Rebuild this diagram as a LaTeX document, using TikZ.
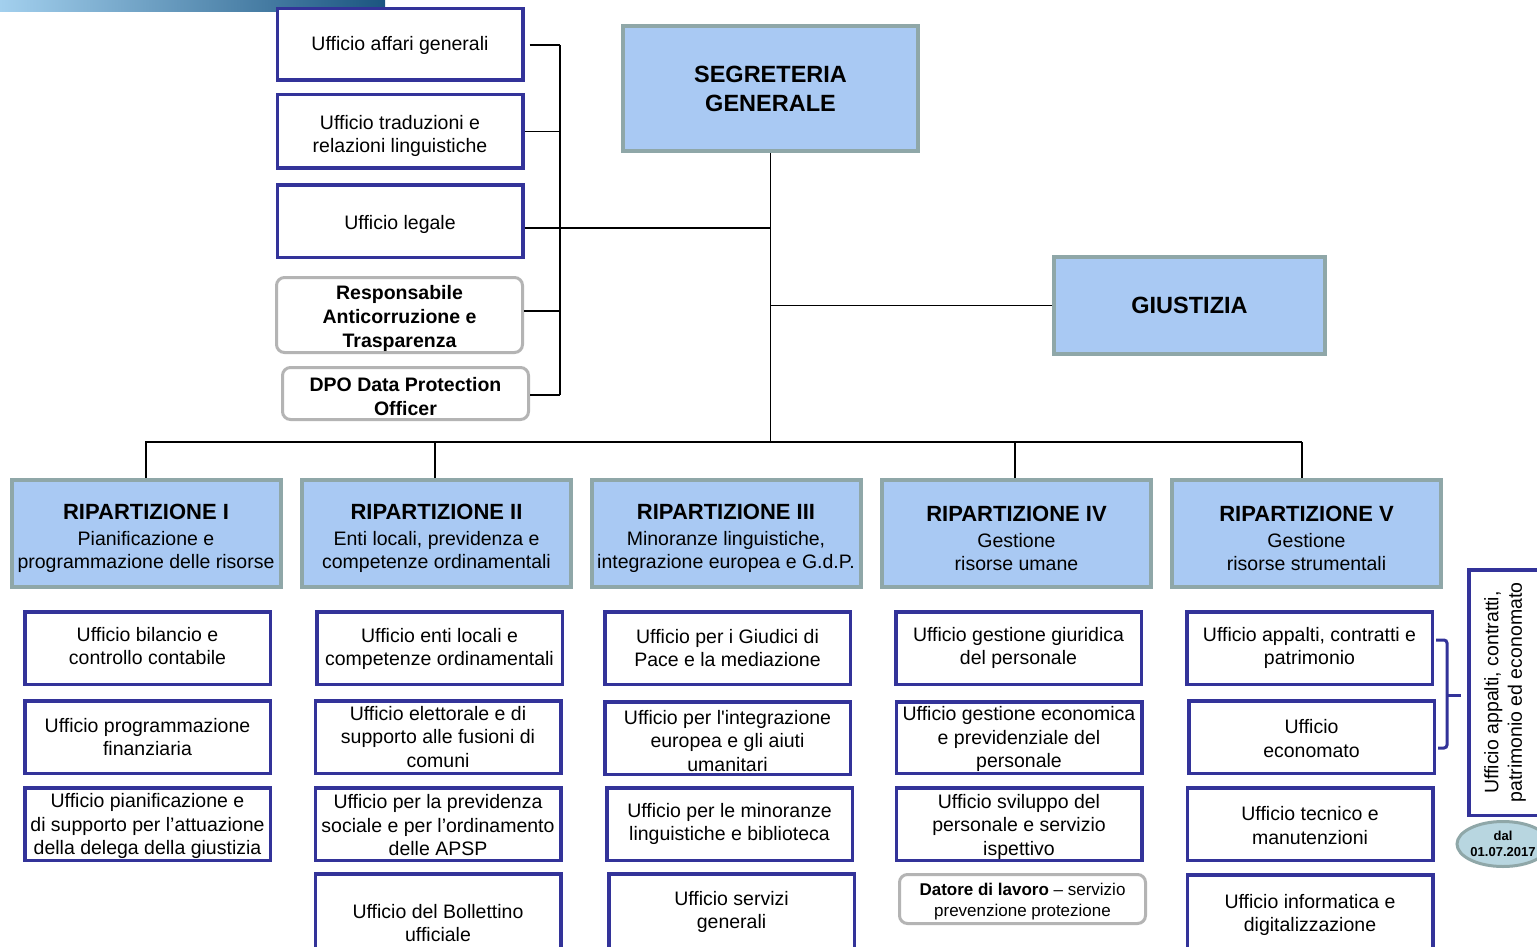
\documentclass[tikz,border=0pt]{standalone}
\usepackage{fontspec}
\setmainfont{Liberation Sans}
\usetikzlibrary{shapes.geometric}
\definecolor{rfill}{HTML}{A9C9F3}
\definecolor{rborder}{HTML}{8FA7A8}
\definecolor{ublue}{HTML}{333399}
\definecolor{ggrey}{HTML}{B4B4B4}
\definecolor{efill}{HTML}{B8D6E0}
\definecolor{barL}{HTML}{A3D0EE}
\definecolor{barM}{HTML}{3F88BE}
\definecolor{barR}{HTML}{1B5580}
\newcommand\myuf{\fontsize{19.5}{23.5}\selectfont}
\newcommand\myub{\fontsize{19.5}{24}\selectfont\bfseries}
\newcommand\myrt{\fontsize{22}{25}\selectfont\bfseries}
\newcommand\mybig{\fontsize{23.5}{29}\selectfont\bfseries}
\newcommand\mysm{\fontsize{17}{21}\selectfont}
\newcommand\myeb{\fontsize{13}{16}\selectfont\bfseries}
\begin{document}
\begin{tikzpicture}[x=1pt,y=-1pt,
  ubox/.style={draw=ublue, line width=3.5pt, fill=white, align=center, inner sep=0pt,
    font=\myuf, minimum width=245.5pt, minimum height=72.5pt},
  rip/.style={draw=rborder, fill=rfill, line width=4pt, align=center, inner sep=0pt,
    font=\myuf, minimum width=269pt, minimum height=107pt},
  gbox/.style={draw=ggrey, line width=3pt, rounded corners=8pt, fill=white, align=center,
    inner sep=0pt, font=\myub, minimum width=246pt},
  tx/.style={align=center, inner sep=0pt, font=\myuf},
  conn/.style={draw=black, line width=1.4pt},
  brk/.style={draw=ublue, line width=3pt, rounded corners=3pt}]
\useasboundingbox (0,0) rectangle (1537,947);
\clip (0,0) rectangle (1537,947);
\fill[white] (0,0) rectangle (1537,947);

% top-left gradient bar
\shade[left color=barL, middle color=barM, right color=barR] (0,0) rectangle (385,12);

% left staff offices
\node[ubox, minimum height=71.5pt] (a1) at (400,44.5) {};
\node[tx] (a1t) at ([yshift=-1pt]a1.center) {Ufficio affari generali};
\node[ubox, minimum height=73.5pt] (a2) at (400,131.5) {};
\node[tx] (a2t) at ([yshift=-4.5pt]a2.center) {Ufficio traduzioni e\\relazioni linguistiche};
\node[ubox] (a3) at (400,221) {};
\node[tx] (a3t) at ([yshift=-3pt]a3.center) {Ufficio legale};
\node[gbox, minimum height=75pt] (a4) at (399.5,315) {};
\node[tx, font=\myub] (a4t) at ([yshift=-3pt]a4.center) {Responsabile\\Anticorruzione e\\Trasparenza};
\node[gbox, minimum height=52pt] (a5) at (405.5,393.5) {};
\node[tx, font=\myub] (a5t) at ([yshift=-3pt]a5.center) {DPO Data Protection\\Officer};

% top units
\node[rip, font=\mybig, minimum width=295pt, minimum height=125pt] (seg) at (770.5,88.5) {SEGRETERIA\\GENERALE};
\node[rip, font=\mybig, minimum width=271pt, minimum height=97pt] (giu) at (1189.5,305.5) {GIUSTIZIA};

% ripartizioni
\node[rip] (r1) at (146,533.5) {};
\node[rip] (r2) at (436.5,533.5) {};
\node[rip] (r3) at (726,533.5) {};
\node[rip] (r4) at (1016.5,533.5) {};
\node[rip] (r5) at (1306.5,533.5) {};
\node[tx] (r1t) at ([yshift=-5pt]r1.center) {{\myrt RIPARTIZIONE I}\\[2pt]Pianificazione e\\programmazione delle risorse};
\node[tx] (r2t) at ([yshift=-5pt]r2.center) {{\myrt RIPARTIZIONE II}\\[2pt]Enti locali, previdenza e\\competenze ordinamentali};
\node[tx] (r3t) at ([yshift=-5pt]r3.center) {{\myrt RIPARTIZIONE III}\\[2pt]Minoranze linguistiche,\\integrazione europea e G.d.P.};
\node[tx] (r4t) at ([yshift=-5pt]r4.center) {{\myrt RIPARTIZIONE IV}\\[2pt]Gestione\\risorse umane};
\node[tx] (r5t) at ([yshift=-5pt]r5.center) {{\myrt RIPARTIZIONE V}\\[2pt]Gestione\\risorse strumentali};

% connectors
\coordinate (sp1) at (560,45);
\coordinate (sp5) at (560,395);
\coordinate (j3) at (560,228);
\coordinate (j4) at (560,311);
\coordinate (busL) at (145,442);
\coordinate (busR) at (1302,442);
\draw[conn] ([xshift=5pt]a1.east |- sp1) -- (sp1);
\draw[conn] (a2.east) -- (a2.east -| sp1);
\draw[conn] (a3.east |- j3) -- (seg.south |- j3);
\draw[conn] (a4.east |- j4) -- (j4);
\draw[conn] (a5.east |- sp5) -- (sp5);
\draw[conn] (sp1) -- (sp5);
\draw[conn] (seg.south) -- (seg.south |- busL);
\draw[conn] (giu.west) -- (giu.west -| seg.south);
\draw[conn] (busL) -- (busR);
\draw[conn] (r1.north) -- (r1.north |- busL);
\draw[conn] ([xshift=-1.5pt]r2.north) -- ([xshift=-1.5pt]r2.north |- busL);
\draw[conn] ([xshift=-1.5pt]r4.north) -- ([xshift=-1.5pt]r4.north |- busL);
\draw[conn] (busR) -- (busR |- r5.north);

% column I
\node[ubox] (i1) at (147.5,648) {};
\node[tx] (i1t) at ([yshift=2pt]i1.center) {Ufficio bilancio e\\controllo contabile};
\node[ubox] (i2) at (147.5,737) {Ufficio programmazione\\finanziaria};
\node[ubox] (i3) at (147.5,824) {};
\node[tx] (i3t) at ([yshift=-2pt]i3.center) {Ufficio pianificazione e\\di supporto per l’attuazione\\della delega della giustizia};
% column II
\node[ubox] (ii1) at (439.5,648) {};
\node[tx] (ii1t) at ([yshift=-1pt]ii1.center) {Ufficio enti locali e\\competenze ordinamentali};
\node[ubox] (ii2) at (438,737) {Ufficio elettorale e di\\supporto alle fusioni di\\comuni};
\node[ubox] (ii3) at (438,824) {};
\node[tx] (ii3t) at ([yshift=-1.5pt]ii3.center) {Ufficio per la previdenza\\sociale e per l’ordinamento\\delle APSP};
\node[ubox, minimum height=98.5pt] (ii4) at (438,923) {Ufficio del Bollettino\\ufficiale};
% column III
\node[ubox] (iii1) at (727.5,648) {Ufficio per i Giudici di\\Pace e la mediazione};
\node[ubox] (iii2) at (727.5,738) {};
\node[tx] (iii2t) at ([yshift=-3pt]iii2.center) {Ufficio per l\textquotesingle integrazione\\europea e gli aiuti\\umanitari};
\node[ubox] (iii3) at (729.5,824) {Ufficio per le minoranze\\linguistiche e biblioteca};
\node[ubox, minimum height=76.5pt] (iii4) at (731.5,912) {Ufficio servizi\\generali};
% column IV
\node[ubox] (iv1) at (1018.5,648) {Ufficio gestione giuridica\\del personale};
\node[ubox, minimum height=71.5pt] (iv2) at (1019,737.5) {};
\node[tx] (iv2t) at ([yshift=-1.5pt]iv2.center) {Ufficio gestione economica\\e previdenziale del\\personale};
\node[ubox] (iv3) at (1019,824) {};
\node[tx] (iv3t) at ([yshift=-2.5pt]iv3.center) {Ufficio sviluppo del\\personale e servizio\\ispettivo};
\node[gbox, minimum height=49pt] (iv4) at (1022.5,899) {};
\node[tx, font=\mysm] (iv4t) at ([yshift=-2.5pt]iv4.center) {\textbf{Datore di lavoro} – servizio\\prevenzione protezione};
% column V
\node[ubox] (v1) at (1309.5,648) {Ufficio appalti, contratti e\\patrimonio};
\node[ubox] (v2) at (1311.5,737) {};
\node[tx] (v2t) at ([yshift=-1.5pt]v2.center) {Ufficio\\economato};
\node[ubox] (v3) at (1310,824) {};
\node[tx] (v3t) at ([yshift=-1.5pt]v3.center) {Ufficio tecnico e\\manutenzioni};
\node[ubox, minimum height=76.5pt] (v4) at (1310,913) {};
\node[tx] (v4t) at ([yshift=-2pt]v4.center) {Ufficio informatica e\\digitalizzazione};

% bracket to merged office
\coordinate (bt) at (1447,640);
\coordinate (bb) at (1447,748);
\coordinate (bm) at (1461,695);
\draw[brk] ([xshift=2pt]v1.east |- bt) -| (bb) -- ([xshift=2pt]v2.east |- bb);
\draw[brk] (bb |- bm) -- (bm);

\node[ubox, rotate=90, minimum width=245.5pt, minimum height=72.5pt] (vb) at (1505,692.5) {Ufficio appalti, contratti,\\patrimonio ed economato};
\node[ellipse, draw=rborder, fill=efill, line width=3pt, minimum width=81pt, minimum height=45pt,
  inner sep=0pt, align=center, font=\myeb] (dal) at (1503,844) {dal\\01.07.2017};
\end{tikzpicture}
\end{document}
